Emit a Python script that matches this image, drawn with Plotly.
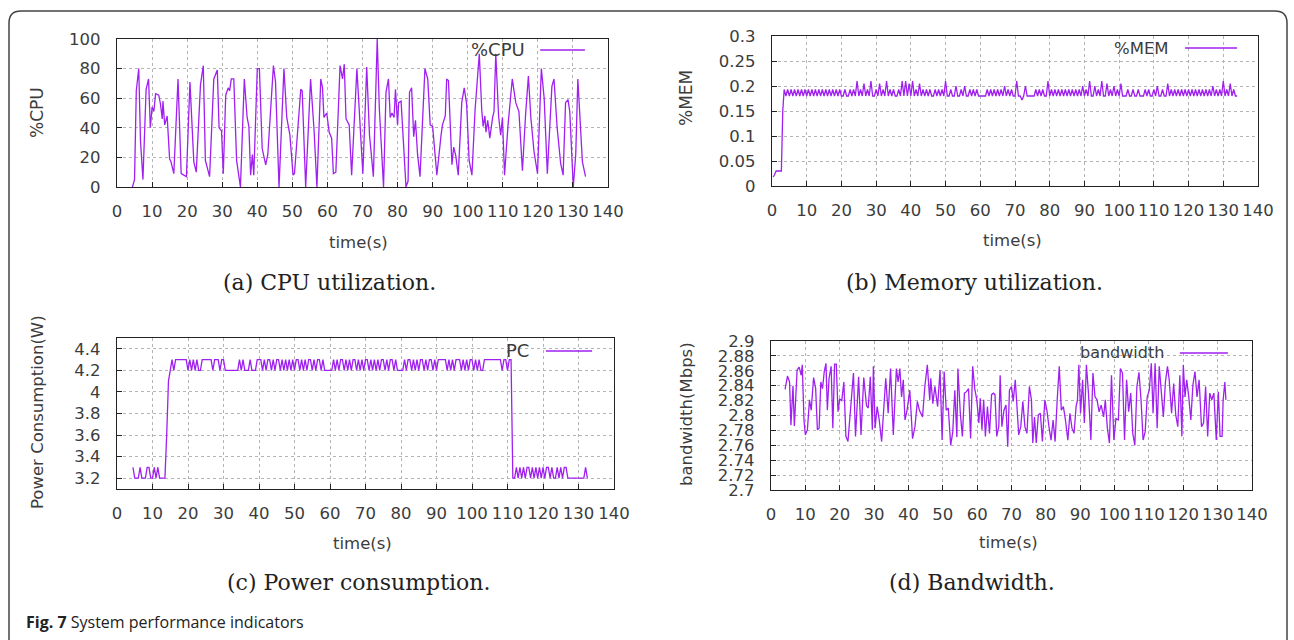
import plotly.graph_objects as go

# ---------------- data ----------------
cpu_t = [4.4, 5.0, 5.5, 6.2, 6.7, 7.4, 8.3, 9.0, 9.5, 10.0, 10.5, 11.0, 11.9, 12.4, 12.9, 13.1,
         13.6, 14.3, 15.0, 15.4, 16.2, 17.4, 18.3, 19.8, 20.8, 21.9, 22.6, 23.8, 24.6, 25.2,
         26.4, 27.6, 28.6, 29.1, 29.8, 30.3, 31.0, 31.7, 32.1, 32.6, 33.3, 34.1, 35.2, 36.3,
         37.1, 37.6, 38.1, 38.6, 39.0, 40.0, 40.6, 41.4, 42.4, 43.0, 44.6, 45.2, 46.2, 47.6,
         48.4, 49.3, 50.2, 50.6, 52.4, 52.8, 53.8, 55.2, 56.2, 57.0, 58.1, 58.6, 59.0, 59.8,
         60.5, 61.2, 61.7, 62.4, 63.6, 64.3, 64.8, 65.3, 66.2, 66.9, 68.4, 69.2, 70.1, 71.2,
         72.0, 73.1, 74.2, 74.8, 76.0, 76.7, 77.4, 77.9, 78.4, 79.0, 79.4, 80.0, 80.3, 81.0,
         81.7, 82.4, 83.0, 83.4, 84.0, 84.6, 85.1, 85.7, 86.4, 87.8, 88.6, 89.3, 90.0, 91.2,
         92.4, 92.8, 93.6, 94.0, 94.5, 95.0, 95.5, 96.0, 96.6, 97.3, 98.3, 99.0, 99.7, 100.4,
         101.2, 102.1, 103.3, 104.0, 104.4, 104.9, 105.2, 105.7, 106.3, 107.1, 107.5, 108.0,
         108.8, 109.4, 109.9, 110.5, 111.5, 112.7, 113.7, 114.6, 115.6, 116.5, 117.3, 118.0,
         118.9, 119.9, 121.0, 121.8, 122.7, 124.0, 124.6, 125.5, 126.5, 127.2, 127.9, 128.6,
         129.1, 130.1, 130.8, 131.4, 132.7, 133.6]
cpu_v = [0, 5, 65, 80, 31, 5, 66, 73, 40, 54, 51, 63, 62, 56, 46, 58,
         42, 48, 19, 17, 9, 73, 9, 7, 71, 17, 10, 69, 82, 18,
         7, 73, 79, 40, 38, 9, 62, 67, 65, 73, 73, 18, 0, 73,
         47, 41, 8, 22, 8, 80, 80, 26, 15, 22, 82, 71, 0, 80,
         47, 35, 8, 9, 66, 65, 0, 73, 38, 0, 73, 67, 47, 50,
         37, 33, 9, 10, 82, 73, 83, 46, 42, 8, 80, 45, 9, 81,
         35, 7, 100, 53, 0, 64, 73, 47, 50, 47, 66, 42, 57, 58,
         28, 0, 4, 64, 67, 34, 45, 22, 7, 80, 73, 42, 41, 8,
         35, 42, 48, 73, 72, 42, 15, 27, 21, 8, 57, 67, 56, 18,
         8, 52, 90, 52, 41, 48, 37, 45, 33, 47, 51, 90,
         48, 35, 47, 8, 42, 73, 57, 51, 11, 49, 75, 47,
         24, 9, 80, 60, 9, 68, 73, 40, 16, 8, 57, 59,
         51, 0, 22, 73, 17, 7]

mem_start_t = [0.3, 0.7, 1.2, 2.7, 3.1]
mem_start_v = [0.018, 0.022, 0.03, 0.03, 0.15]
mem_step_start = 3.5   # sampling: one value every 0.5 s from 3.5 s
mem_step = 0.5
mem_v = [
    0.193, 0.18, 0.193, 0.18, 0.193, 0.18, 0.193, 0.18, 0.193, 0.18,
    0.193, 0.18, 0.193, 0.18, 0.193, 0.18, 0.193, 0.18, 0.193, 0.18,
    0.193, 0.18, 0.193, 0.18, 0.193, 0.18, 0.193, 0.18, 0.193, 0.18,
    0.193, 0.18, 0.193, 0.18, 0.18, 0.193, 0.18, 0.18, 0.193, 0.18,
    0.193, 0.18, 0.21, 0.18, 0.193, 0.18, 0.205, 0.18, 0.193, 0.18,
    0.21, 0.18, 0.18, 0.193, 0.18, 0.205, 0.18, 0.193, 0.18, 0.21,
    0.18, 0.193, 0.18, 0.193, 0.18, 0.18, 0.193, 0.18, 0.21, 0.18,
    0.21, 0.18, 0.205, 0.18, 0.21, 0.18, 0.193, 0.18, 0.205, 0.18,
    0.193, 0.18, 0.193, 0.18, 0.193, 0.18, 0.18, 0.193, 0.18, 0.193,
    0.18, 0.193, 0.18, 0.21, 0.18, 0.18, 0.193, 0.18, 0.18, 0.2,
    0.18, 0.18, 0.193, 0.18, 0.2, 0.18, 0.18, 0.193, 0.18, 0.193,
    0.18, 0.193, 0.18, 0.18, 0.18, 0.18, 0.18, 0.193, 0.18, 0.193,
    0.18, 0.193, 0.18, 0.193, 0.18, 0.193, 0.18, 0.2, 0.18, 0.193,
    0.18, 0.193, 0.18, 0.18, 0.21, 0.18, 0.18, 0.172, 0.18, 0.2,
    0.18, 0.18, 0.18, 0.18, 0.18, 0.193, 0.18, 0.193, 0.18, 0.193,
    0.18, 0.18, 0.21, 0.18, 0.193, 0.18, 0.193, 0.18, 0.193, 0.18,
    0.193, 0.18, 0.193, 0.18, 0.193, 0.18, 0.193, 0.18, 0.193, 0.18,
    0.193, 0.18, 0.2, 0.18, 0.193, 0.18, 0.21, 0.18, 0.18, 0.2,
    0.18, 0.193, 0.18, 0.21, 0.18, 0.18, 0.205, 0.18, 0.193, 0.18,
    0.2, 0.18, 0.193, 0.18, 0.205, 0.18, 0.18, 0.18, 0.193, 0.18,
    0.18, 0.193, 0.18, 0.18, 0.193, 0.18, 0.18, 0.18, 0.193, 0.18,
    0.193, 0.18, 0.18, 0.193, 0.18, 0.2, 0.18, 0.18, 0.193, 0.18,
    0.18, 0.205, 0.18, 0.193, 0.18, 0.193, 0.18, 0.193, 0.18, 0.193,
    0.18, 0.193, 0.18, 0.193, 0.18, 0.193, 0.18, 0.193, 0.18, 0.193,
    0.18, 0.193, 0.18, 0.193, 0.18, 0.193, 0.18, 0.2, 0.18, 0.193,
    0.18, 0.193, 0.18, 0.21, 0.18, 0.193, 0.18, 0.205, 0.18, 0.193,
    0.18, 0.18]

pc_step_start = 4.5    # sampling: one value every 0.5 s from 4.5 s
pc_step = 0.5
pc_v = [
    3.3, 3.2, 3.2, 3.2, 3.3, 3.2, 3.2, 3.2, 3.3, 3.3,
    3.2, 3.2, 3.3, 3.2, 3.3, 3.2, 3.2, 3.2, 3.2, 3.6,
    4.1, 4.2, 4.3, 4.2, 4.3, 4.3, 4.3, 4.3, 4.3, 4.3,
    4.3, 4.2, 4.3, 4.2, 4.3, 4.2, 4.3, 4.2, 4.2, 4.3,
    4.3, 4.3, 4.3, 4.3, 4.3, 4.2, 4.3, 4.3, 4.3, 4.2,
    4.3, 4.3, 4.2, 4.2, 4.2, 4.2, 4.2, 4.2, 4.2, 4.2,
    4.3, 4.2, 4.3, 4.2, 4.2, 4.2, 4.3, 4.2, 4.2, 4.2,
    4.3, 4.3, 4.3, 4.2, 4.3, 4.2, 4.3, 4.3, 4.2, 4.3,
    4.2, 4.3, 4.3, 4.2, 4.3, 4.2, 4.3, 4.2, 4.3, 4.2,
    4.3, 4.2, 4.3, 4.3, 4.2, 4.3, 4.2, 4.3, 4.2, 4.3,
    4.3, 4.2, 4.3, 4.2, 4.3, 4.3, 4.2, 4.3, 4.2, 4.2,
    4.2, 4.2, 4.2, 4.3, 4.2, 4.3, 4.2, 4.3, 4.3, 4.2,
    4.3, 4.2, 4.3, 4.2, 4.3, 4.3, 4.2, 4.3, 4.2, 4.3,
    4.2, 4.3, 4.3, 4.2, 4.3, 4.2, 4.3, 4.2, 4.3, 4.2,
    4.3, 4.3, 4.2, 4.3, 4.2, 4.3, 4.3, 4.2, 4.3, 4.2,
    4.2, 4.2, 4.2, 4.3, 4.2, 4.3, 4.3, 4.2, 4.3, 4.2,
    4.3, 4.2, 4.3, 4.3, 4.2, 4.3, 4.2, 4.3, 4.3, 4.2,
    4.3, 4.2, 4.3, 4.3, 4.3, 4.3, 4.3, 4.2, 4.3, 4.2,
    4.3, 4.2, 4.3, 4.3, 4.3, 4.2, 4.3, 4.2, 4.3, 4.2,
    4.3, 4.3, 4.2, 4.3, 4.2, 4.3, 4.2, 4.2, 4.3, 4.3,
    4.3, 4.3, 4.3, 4.3, 4.3, 4.3, 4.3, 4.3, 4.2, 4.3,
    4.3, 4.2, 4.3, 4.3, 3.2, 3.2, 3.3, 3.2, 3.3, 3.2,
    3.3, 3.2, 3.3, 3.3, 3.2, 3.3, 3.2, 3.3, 3.2, 3.3,
    3.2, 3.3, 3.2, 3.3, 3.3, 3.2, 3.3, 3.2, 3.2, 3.3,
    3.2, 3.3, 3.2, 3.3, 3.3, 3.2, 3.2, 3.2, 3.2, 3.2,
    3.2, 3.2, 3.2, 3.2, 3.2, 3.3, 3.2]

bw_t = [4.1, 4.8, 5.4, 5.8, 6.4, 6.8, 7.6, 8.2, 8.8, 9.1, 9.6, 10.0, 10.6, 11.2, 11.7, 12.4,
        13.0, 13.5, 14.0, 14.5, 15.0, 15.5, 16.0, 16.4, 16.9, 17.5, 18.0, 18.5, 19.0, 19.5,
        20.0, 20.6, 21.2, 21.8, 22.4, 23.1, 24.0, 24.6, 25.5, 26.2, 27.0, 27.8, 28.3, 28.9,
        29.5, 29.8, 30.3, 30.9, 31.5, 32.2, 32.8, 33.4, 34.1, 34.8, 35.6, 36.2, 36.5, 37.0,
        37.5, 38.0, 38.5, 39.0, 39.6, 40.4, 41.2, 41.9, 42.6, 43.2, 44.1, 44.8, 45.5, 46.2,
        46.5, 47.1, 47.7, 48.5, 49.2, 49.8, 50.4, 51.0, 51.6, 52.3, 52.9, 53.5, 54.1, 54.4,
        55.1, 55.7, 56.3, 56.9, 57.5, 58.1, 58.7, 59.3, 59.9, 60.5, 60.9, 61.4, 61.9, 62.4,
        63.0, 63.6, 64.2, 64.7, 65.2, 65.7, 66.3, 66.7, 67.2, 67.8, 68.4, 68.9, 69.4, 70.0,
        70.5, 71.1, 71.6, 72.1, 72.7, 73.3, 73.9, 74.5, 75.2, 75.8, 76.2, 76.7, 77.2, 77.8,
        78.4, 79.0, 79.7, 80.3, 80.9, 81.5, 82.1, 82.7, 83.3, 83.9, 84.5, 85.1, 85.7, 86.4,
        87.0, 87.6, 88.2, 88.8, 89.2, 89.6, 90.1, 90.7, 91.2, 91.8, 92.4, 93.1, 93.7, 94.3,
        94.9, 95.5, 96.1, 96.8, 97.3, 97.9, 98.5, 99.1, 99.8, 100.4, 101.1, 101.7, 102.3,
        102.9, 103.5, 104.1, 104.7, 105.3, 105.9, 106.5, 107.1, 107.7, 108.3, 108.9, 109.5,
        110.1, 110.7, 111.2, 111.8, 112.4, 113.0, 113.6, 114.2, 114.8, 115.4, 115.9, 116.6,
        117.2, 117.8, 118.4, 119.0, 119.6, 120.0, 120.5, 121.0, 121.6, 122.2, 122.8, 123.4,
        124.0, 124.6, 125.3, 125.9, 126.5, 127.1, 127.7, 128.3, 128.9, 129.6, 130.2, 130.7,
        131.3, 131.6, 132.1, 132.4]
bw_v = [2.835, 2.853, 2.845, 2.787, 2.84, 2.786, 2.861, 2.865, 2.854, 2.868, 2.794, 2.774,
        2.781, 2.821, 2.807, 2.851, 2.836, 2.781, 2.783, 2.845, 2.836, 2.859, 2.87, 2.807,
        2.85, 2.866, 2.783, 2.869, 2.869, 2.805, 2.822, 2.82, 2.845, 2.772, 2.765, 2.803,
        2.857, 2.772, 2.852, 2.774, 2.851, 2.813, 2.81, 2.852, 2.781, 2.866, 2.783, 2.812,
        2.794, 2.765, 2.814, 2.85, 2.803, 2.863, 2.774, 2.836, 2.863, 2.845, 2.863, 2.825,
        2.848, 2.794, 2.807, 2.834, 2.769, 2.785, 2.819, 2.807, 2.798, 2.84, 2.868, 2.821,
        2.85, 2.816, 2.839, 2.812, 2.861, 2.767, 2.859, 2.807, 2.81, 2.76, 2.778, 2.834,
        2.771, 2.863, 2.803, 2.772, 2.83, 2.832, 2.836, 2.769, 2.866, 2.836, 2.821, 2.79,
        2.823, 2.781, 2.821, 2.772, 2.812, 2.776, 2.828, 2.83, 2.828, 2.772, 2.785, 2.854,
        2.785, 2.807, 2.814, 2.758, 2.834, 2.839, 2.819, 2.848, 2.807, 2.774, 2.785, 2.819,
        2.785, 2.776, 2.839, 2.821, 2.763, 2.798, 2.763, 2.801, 2.803, 2.765, 2.821, 2.807,
        2.785, 2.767, 2.794, 2.765, 2.821, 2.866, 2.807, 2.812, 2.794, 2.767, 2.803, 2.783,
        2.776, 2.812, 2.821, 2.868, 2.803, 2.848, 2.79, 2.868, 2.83, 2.767, 2.857, 2.825,
        2.821, 2.805, 2.814, 2.798, 2.821, 2.783, 2.763, 2.854, 2.767, 2.796, 2.794, 2.863,
        2.857, 2.767, 2.848, 2.805, 2.83, 2.776, 2.76, 2.839, 2.858, 2.821, 2.767, 2.778,
        2.825, 2.834, 2.87, 2.803, 2.87, 2.783, 2.866, 2.825, 2.798, 2.845, 2.866, 2.848,
        2.803, 2.843, 2.801, 2.785, 2.854, 2.772, 2.868, 2.825, 2.848, 2.825, 2.794, 2.841,
        2.859, 2.825, 2.848, 2.785, 2.79, 2.839, 2.772, 2.83, 2.821, 2.83, 2.767, 2.832,
        2.772, 2.772, 2.821, 2.845, 2.821]

x_ticks = [0, 10, 20, 30, 40, 50, 60, 70, 80, 90, 100, 110, 120, 130, 140]
cpu_ticks = [0, 20, 40, 60, 80, 100]
mem_ticks = [0, 0.05, 0.1, 0.15, 0.2, 0.25, 0.3]
mem_tick_text = ["0", "0.05", "0.1", "0.15", "0.2", "0.25", "0.3"]
pc_ticks = [3.2, 3.4, 3.6, 3.8, 4.0, 4.2, 4.4]
pc_tick_text = ["3.2", "3.4", "3.6", "3.8", "4", "4.2", "4.4"]
bw_ticks = [2.7, 2.72, 2.74, 2.76, 2.78, 2.8, 2.82, 2.84, 2.86, 2.88, 2.9]
bw_tick_text = ["2.7", "2.72", "2.74", "2.76", "2.78", "2.8", "2.82", "2.84", "2.86", "2.88", "2.9"]

mem_t = mem_start_t + [mem_step_start + mem_step * i for i in range(len(mem_v))]
mem_all = mem_start_v + mem_v
pc_t = [pc_step_start + pc_step * i for i in range(len(pc_v))]

# ---------------- layout helpers ----------------
W, H = 1294, 640
def px(x): return x / W
def py(y): return 1 - y / H

LINE = "#a020f0"
TXT = "#3c3c3c"
TICKFONT = dict(family="DejaVu Sans", size=16.5, color=TXT)

panels = [
    dict(x=(117, 608), y=(39, 187), yr=[0, 100], tv=cpu_ticks, tt=[str(v) for v in cpu_ticks]),
    dict(x=(772, 1258), y=(36, 186), yr=[0, 0.3], tv=mem_ticks, tt=mem_tick_text),
    dict(x=(117, 614), y=(338, 489), yr=[3.1, 4.5], tv=pc_ticks, tt=pc_tick_text),
    dict(x=(771, 1252), y=(341, 490), yr=[2.7, 2.9], tv=bw_ticks, tt=bw_tick_text),
]

fig = go.Figure()
series = [(cpu_t, cpu_v, "%CPU"), (mem_t, mem_all, "%MEM"), (pc_t, pc_v, "PC"), (bw_t, bw_v, "bandwidth")]
for i, (t, v, name) in enumerate(series):
    ax = "" if i == 0 else str(i + 1)
    fig.add_trace(go.Scatter(x=t, y=v, mode="lines", name=name, xaxis="x" + ax, yaxis="y" + ax,
                             line=dict(color=LINE, width=1.3), showlegend=False, cliponaxis=True,
                             hoverinfo="skip"))

layout = dict(template="none", width=W, height=H, autosize=False,
              margin=dict(l=0, r=0, t=0, b=0, pad=0, autoexpand=False),
              paper_bgcolor="white", plot_bgcolor="white", showlegend=False)
for i, p in enumerate(panels):
    ax = "" if i == 0 else str(i + 1)
    layout["xaxis" + ax] = dict(domain=[px(p["x"][0]), px(p["x"][1])], anchor="y" + ax, range=[0, 140],
                                tickvals=x_ticks, ticktext=[str(v) for v in x_ticks],
                                showgrid=True, gridcolor="#b4b4b4", griddash="dot", gridwidth=1,
                                showline=True, linecolor="#222", linewidth=1.2, mirror=True,
                                ticks="inside", ticklen=5, tickcolor="#222", tickfont=TICKFONT,
                                ticklabelstandoff=9, zeroline=False, fixedrange=True, automargin=False)
    layout["yaxis" + ax] = dict(domain=[py(p["y"][1]), py(p["y"][0])], anchor="x" + ax, range=p["yr"],
                                tickvals=p["tv"], ticktext=p["tt"],
                                showgrid=True, gridcolor="#b4b4b4", griddash="dot", gridwidth=1,
                                showline=True, linecolor="#222", linewidth=1.2, mirror=True,
                                ticks="inside", ticklen=5, tickcolor="#222", tickfont=TICKFONT,
                                ticklabelstandoff=12, zeroline=False, fixedrange=True, automargin=False)
fig.update_layout(**layout)

ann = []
shapes = []
titles = [
    ("time(s)", 358, 242, 0, 16.5), ("time(s)", 1012, 240, 0, 16.5), ("time(s)", 362, 543, 0, 16.5),
    ("time(s)", 1008, 542, 0, 16.5),
    ("%CPU", 37, 113, -90, 17), ("%MEM", 686, 98, -90, 17), ("Power Consumption(W)", 37, 412, -90, 16.5),
    ("bandwidth(Mbps)", 686, 414, -90, 16.5),
]
for text, x, y, rot, fs in titles:
    ann.append(dict(text=text, x=px(x), y=py(y), xref="paper", yref="paper", showarrow=False,
                    xanchor="center", yanchor="middle", textangle=rot,
                    font=dict(family="DejaVu Sans", size=fs, color=TXT)))

# legend-like keys (gnuplot style: label then line sample)
keys = [("%CPU", 0.835, 0.862, 0.953, 0.926, 18), ("%MEM", 0.821, 0.85, 0.957, 0.92, 16.5),
        ("PC", 0.833, 0.863, 0.956, 0.914, 18), ("bandwidth", 0.821, 0.85, 0.95, 0.92, 16)]
for i, (text, tx, l0, l1, yy, fs) in enumerate(keys):
    ax = "" if i == 0 else str(i + 1)
    ann.append(dict(text=text, x=tx, y=yy, xref="x%s domain" % ax, yref="y%s domain" % ax,
                    showarrow=False, xanchor="right", yanchor="middle",
                    font=dict(family="DejaVu Sans", size=fs, color=TXT)))
    shapes.append(dict(type="line", x0=l0, x1=l1, y0=yy, y1=yy, xref="x%s domain" % ax,
                       yref="y%s domain" % ax, line=dict(color=LINE, width=1.5)))

caps = [("(a) CPU utilization.", 330, 282), ("(b) Memory utilization.", 974, 282),
        ("(c) Power consumption.", 358, 582), ("(d) Bandwidth.", 972, 582)]
for text, x, y in caps:
    ann.append(dict(text=text, x=px(x), y=py(y), xref="paper", yref="paper", showarrow=False,
                    xanchor="center", yanchor="middle",
                    font=dict(family="DejaVu Serif", size=22, color="#222")))

ann.append(dict(text="<b>Fig. 7</b> System performance indicators", x=px(24), y=py(622),
                xref="paper", yref="paper", showarrow=False, xanchor="left", yanchor="middle",
                font=dict(family="Open Sans", size=16, color="#222")))

# rounded outer frame (open at the bottom, it continues below the picture)
r = 12
x0, x1, y0, y1 = 9, 1287, 11, 660
path = ("M %f,%f L %f,%f Q %f,%f %f,%f L %f,%f Q %f,%f %f,%f L %f,%f" % (
    px(x0), py(y1), px(x0), py(y0 + r), px(x0), py(y0), px(x0 + r), py(y0),
    px(x1 - r), py(y0), px(x1), py(y0), px(x1), py(y0 + r), px(x1), py(y1)))
shapes.append(dict(type="path", path=path, xref="paper", yref="paper",
                   line=dict(color="#444", width=1.5)))

fig.update_layout(annotations=ann, shapes=shapes)
# remove the default page margin so the figure fills the window exactly
fig.write_html("out.html", config={"displayModeBar": False, "staticPlot": True},
               post_script=(
                   "document.body.style.margin='0';document.body.style.padding='0';"
                   "document.body.style.overflow='hidden';document.documentElement.style.overflow='hidden';"))
